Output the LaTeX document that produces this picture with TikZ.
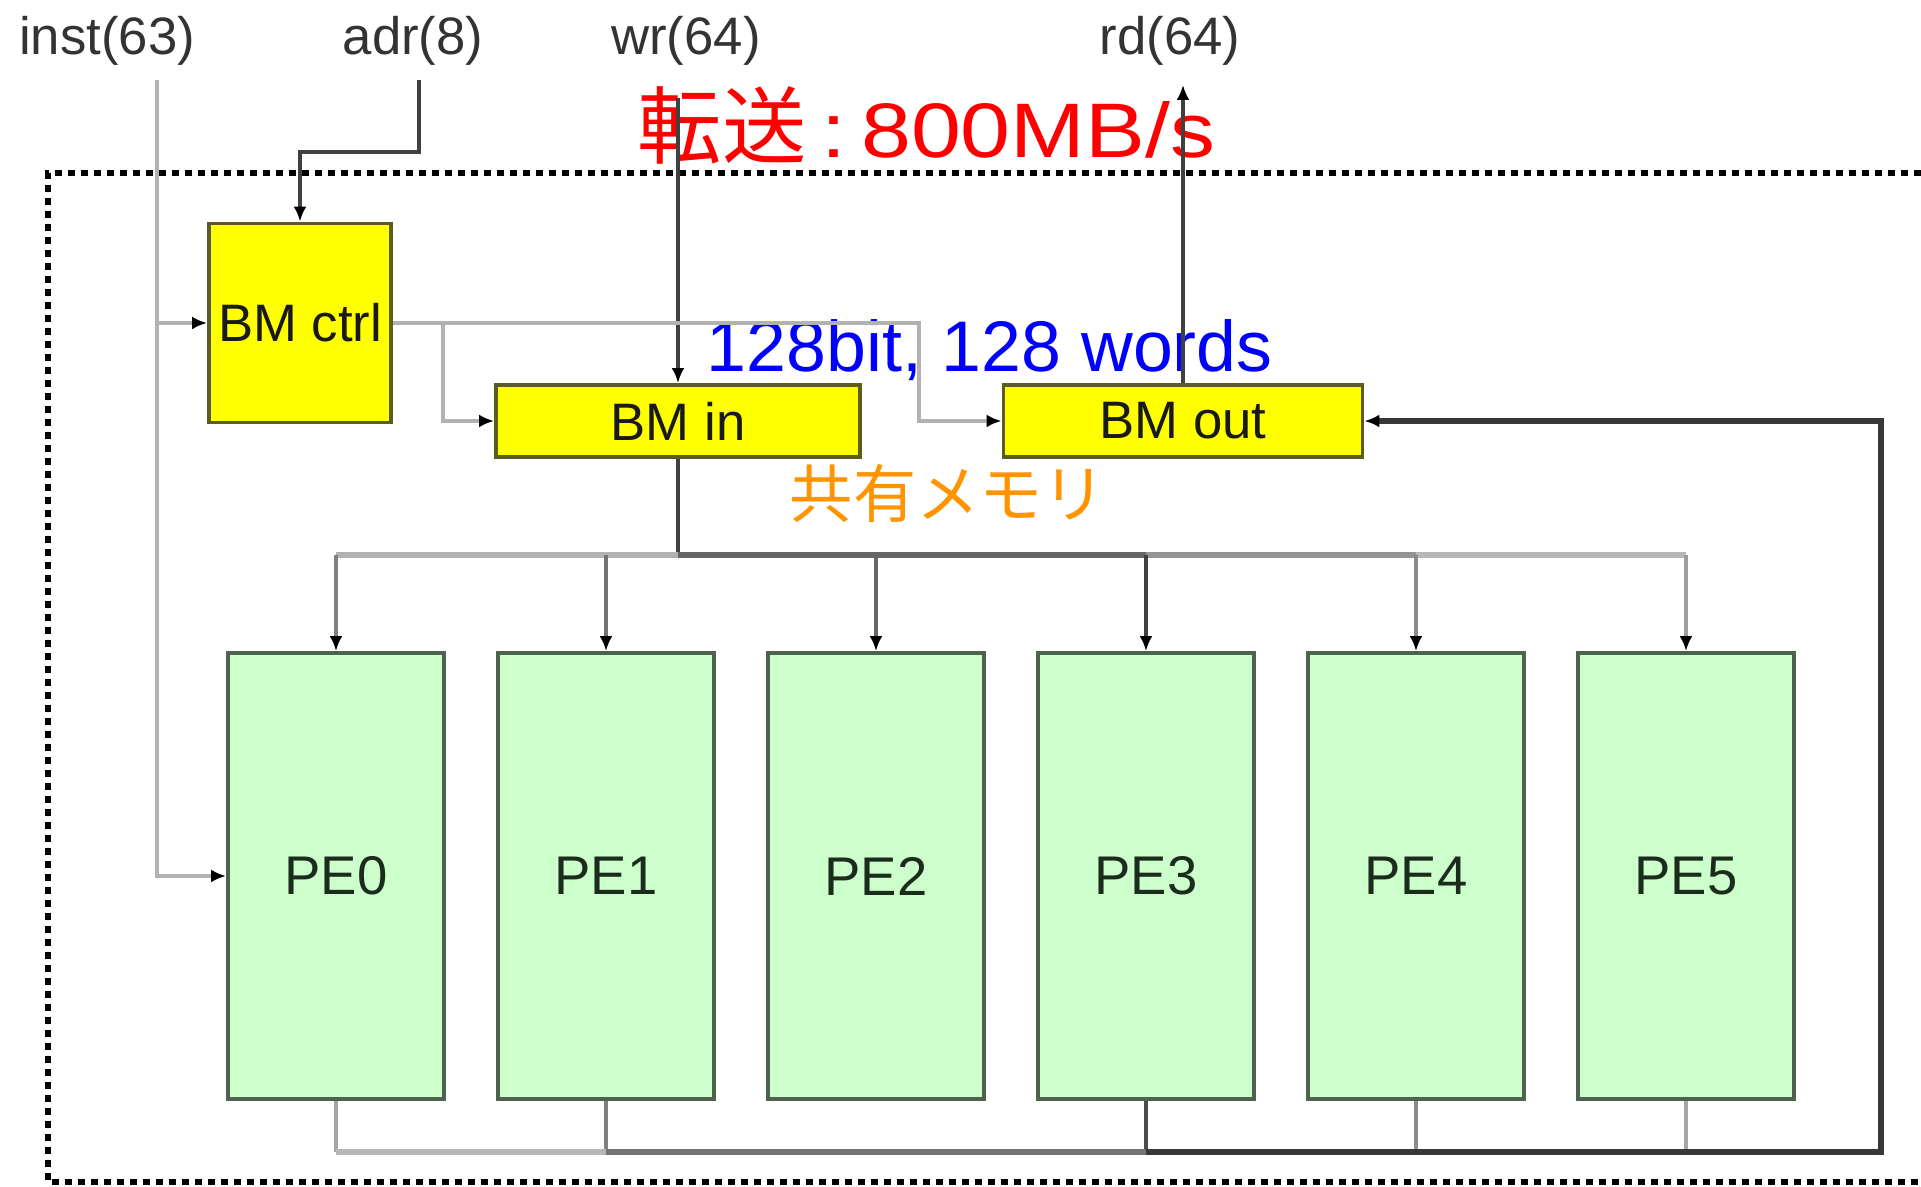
\documentclass[tikz,border=0pt]{standalone}
\usepackage{fontspec}
\setmainfont{Liberation Sans}
\newfontfamily\cjk{Noto Sans CJK JP}
\usepackage{graphicx}
\usepackage{tikz}
\usetikzlibrary{arrows.meta,positioning,calc}
\definecolor{bmyellow}{HTML}{FFFF00}
\definecolor{bmedge}{HTML}{5C5C1E}
\definecolor{pegreen}{HTML}{CCFFCC}
\definecolor{peedge}{HTML}{4E624E}
\definecolor{petext}{HTML}{1C2C1C}
\definecolor{memorange}{HTML}{FF9300}
\definecolor{labgray}{HTML}{333333}

\begin{document}
\begin{tikzpicture}[
  bmbox/.style={rectangle, draw=bmedge, fill=bmyellow, line width=1.1pt, inner sep=0pt, minimum height=0.72cm, font=\fontsize{15}{18}\selectfont, text=black!90},
  pebox/.style={rectangle, draw=peedge, fill=pegreen, line width=1.1pt, inner sep=0pt, minimum width=2.16cm, minimum height=4.46cm, font=\fontsize{15.5}{18}\selectfont, text=petext},
  sig/.style={font=\fontsize{15}{18}\selectfont, text=labgray, inner sep=0pt, anchor=base},
  wire/.style={line width=0.9pt, black!30},
  darkwire/.style={line width=0.9pt, black!75},
  busline/.style={line width=1.6pt},
  arr/.style={-{Latex[length=1.5mm, width=1.3mm, color=black]}},
  outerframe/.style={line width=1.8pt, dash pattern=on 0.07cm off 0.06cm}
]
\useasboundingbox (0,0) rectangle (19.21,11.87);

% dotted outline, open to the right
\draw[outerframe] (19.21,10.14) -- (0.48,10.14) -- (0.48,0.05) -- (19.21,0.05);

% signal names
\node[sig] (inst) at (1.07,11.32) {inst(63)};
\node[sig] (adr) at (4.13,11.32) {adr(8)};
\node[sig] (wr) at (6.86,11.32) {wr(64)};
\node[sig] (rd) at (11.70,11.32) {rd(64)};

% notes
\node[anchor=base west, inner sep=0pt, text=red, font=\fontsize{24}{28}\selectfont] (rate) at (6.37,10.29)
  {{\cjk 転送}\scalebox{1.16}[1]{\fontsize{22}{26}\selectfont\,:\,800MB/s}};
\node[anchor=base west, inner sep=0pt, text=blue, font=\fontsize{20.4}{24}\selectfont] (size) at (7.06,8.15) {128bit, 128 words};
\node[inner sep=0pt, text=memorange, font=\cjk\fontsize{18}{22}\selectfont] (shared) at (9.48,6.93) {共有メモリ};

% blocks
\node[bmbox, minimum width=1.82cm, minimum height=1.99cm] (ctrl) at (3.00,8.64) {BM ctrl};
\node[bmbox, minimum width=3.64cm] (bmin) at (6.78,7.66) {BM in};
\node[bmbox, minimum width=3.59cm] (bmout) at (11.83,7.66) {BM out};
\foreach \i in {0,...,5}
  \node[pebox] (pe\i) at (3.36+2.70*\i,3.11) {PE\i};

\coordinate (inst0) at (1.57,11.07);
\coordinate (adr0) at (4.19,11.07);
\coordinate (adrbend) at (4.19,10.35);
\coordinate (wr0) at (6.78,10.89);
\coordinate (rd0) at (11.83,11.02);
\coordinate (split1) at (4.43,8.64);
\coordinate (split2) at (9.19,8.64);
\coordinate (bus) at (6.78,6.32);
\coordinate (ret) at (18.81,0.35);

% inputs and output
\draw[wire, arr] (inst0) |- (ctrl.west);
\draw[wire, arr] (inst0) |- (pe0.west);
\draw[darkwire, arr] (adr0) -- (adrbend) -| (ctrl.north);
\draw[darkwire, arr] (wr0) -- (bmin.north);
\draw[darkwire, arr] (bmout.north) -- (rd0);

% control lines
\draw[wire] (ctrl.east) -- (split1);
\draw[wire, arr] (split1) |- (bmin.west);
\draw[wire, arr] (split1) -- (split2) |- (bmout.west);

% broadcast to the PEs
\draw[darkwire] (bmin.south) -- (bus);
\draw[busline, black!30] (pe0.north |- bus) -- (bus);
\draw[busline, black!60] (bus) -- (pe3.north |- bus);
\draw[busline, black!42] (pe3.north |- bus) -- (pe4.north |- bus);
\draw[busline, black!28] (pe4.north |- bus) -- (pe5.north |- bus);
\foreach \i/\c in {0/50,1/55,2/60,3/75,4/45,5/38}
  \draw[line width=0.9pt, black!\c, arr] (pe\i.north |- bus) -- (pe\i.north);

% results back to BM out
\foreach \i/\c in {0/35,1/50,3/70,4/45,5/35}
  \draw[line width=0.9pt, black!\c] (pe\i.south) -- (pe\i.south |- ret);
\draw[busline, black!28] (pe0.south |- ret) -- (pe1.south |- ret);
\draw[busline, black!55] (pe1.south |- ret) -- (pe3.south |- ret);
\draw[busline, black!78, arr] (pe3.south |- ret) -- (ret) |- (bmout.east);
\end{tikzpicture}
\end{document}
